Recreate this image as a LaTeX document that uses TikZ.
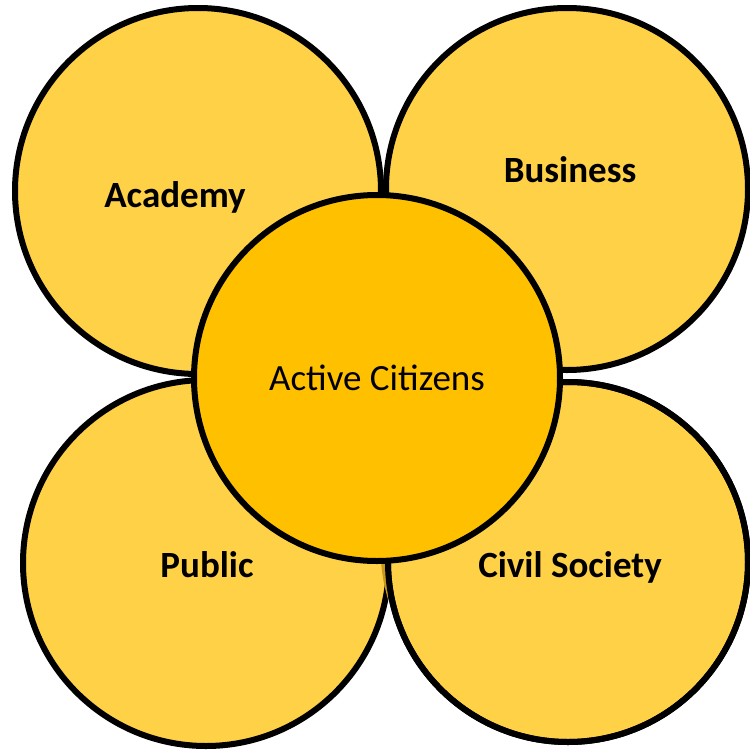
\documentclass[tikz,border=0pt]{standalone}
\usepackage{fontspec}
\setmainfont{Carlito}
\definecolor{petal}{HTML}{FFD146}
\definecolor{core}{HTML}{FFC000}
\definecolor{lens}{HTML}{C8981E}
\begin{document}
\begin{tikzpicture}[x=1pt,y=-1pt,
  petalc/.style={circle,draw=black,line width=6pt,fill=petal,inner sep=0pt},
  corec/.style={circle,draw=black,line width=6pt,fill=core,inner sep=0pt},
  lbl/.style={anchor=base,font=\fontsize{37}{44}\selectfont\bfseries},
  clbl/.style={anchor=base,font=\fontsize{37}{44}\selectfont}]
\useasboundingbox (0,0) rectangle (750,753);
\node[petalc,minimum size=366pt] (academy) at (198,191) {};
\node[petalc,minimum size=362pt] (business) at (567,189) {};
\node[petalc,minimum size=366pt] (public) at (206,563) {};
\node[petalc,minimum size=360pt] (civil) at (568,562) {};
\fill[lens] (381,562) .. controls (383,580) .. (388,600) -- (391,562) -- cycle;
\draw[line width=6pt] (568,562) circle[radius=180pt];
\node[corec,minimum size=366pt] (center) at (377,378) {};
\node[lbl] (tacademy) at (175,207) {Academy};
\node[lbl] (tbusiness) at (570,182) {Business};
\node[clbl] (tcenter) at (377,390) {Active Citizens};
\node[lbl] (tpublic) at (207,577) {Public};
\node[lbl] (tcivil) at (570,577) {Civil Society};
\end{tikzpicture}
\end{document}
